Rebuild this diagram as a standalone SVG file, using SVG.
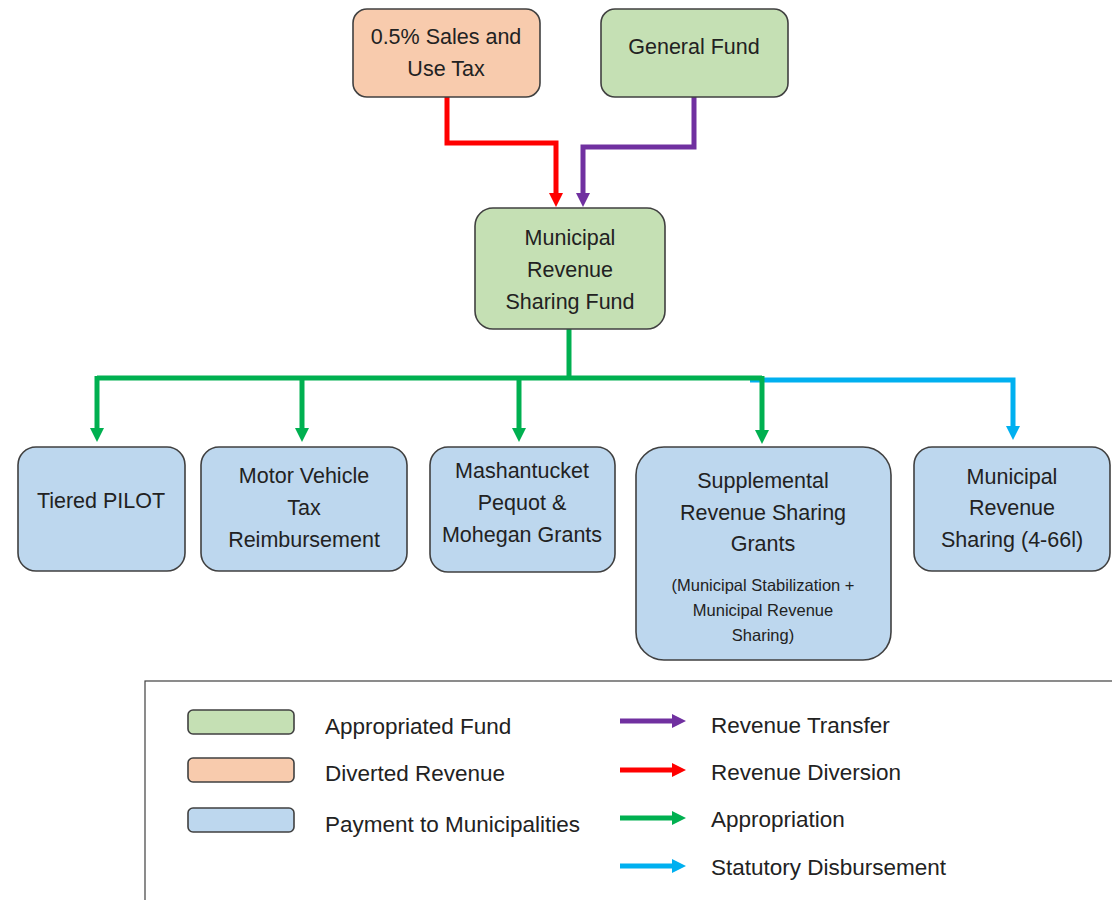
<svg xmlns="http://www.w3.org/2000/svg" width="1112" height="900" viewBox="0 0 1112 900">
<style>
text{font-family:"Liberation Sans",Arial,sans-serif;fill:#222;text-anchor:middle;font-size:21.5px}
.lg{text-anchor:start;font-size:22.5px}
.sm{font-size:16.5px}
.node{stroke:#404040;stroke-width:1.6}
.g{fill:#C5E0B4}.o{fill:#F8CBAD}.b{fill:#BDD7EE}
.c{fill:none;stroke-width:5}
.red{stroke:#FF0000}.pur{stroke:#7030A0}.grn{stroke:#00B050}.blu{stroke:#00B0F0}
</style>
<defs>
<marker id="ar" markerUnits="userSpaceOnUse" viewBox="0 0 14 14" markerWidth="14" markerHeight="14" refX="0" refY="7" orient="auto"><path d="M0,0 L14,7 L0,14z" fill="#FF0000"/></marker>
<marker id="ap" markerUnits="userSpaceOnUse" viewBox="0 0 14 14" markerWidth="14" markerHeight="14" refX="0" refY="7" orient="auto"><path d="M0,0 L14,7 L0,14z" fill="#7030A0"/></marker>
<marker id="ag" markerUnits="userSpaceOnUse" viewBox="0 0 14 14" markerWidth="14" markerHeight="14" refX="0" refY="7" orient="auto"><path d="M0,0 L14,7 L0,14z" fill="#00B050"/></marker>
<marker id="ab" markerUnits="userSpaceOnUse" viewBox="0 0 14 14" markerWidth="14" markerHeight="14" refX="0" refY="7" orient="auto"><path d="M0,0 L14,7 L0,14z" fill="#00B0F0"/></marker>
</defs>
<rect width="1112" height="900" fill="#fff"/>

<g id="connectors">
<path class="c red" d="M447,97 V143 H556 V193" marker-end="url(#ar)"/>
<path class="c pur" d="M694,97 V147 H583 V193" marker-end="url(#ap)"/>
<path class="c blu" d="M750,380 H1013 V426" marker-end="url(#ab)"/>
<path class="c grn" d="M569,329 V378"/>
<path class="c grn" d="M97,378 H762"/>
<path class="c grn" d="M97,376 V428" marker-end="url(#ag)"/>
<path class="c grn" d="M302,378 V428" marker-end="url(#ag)"/>
<path class="c grn" d="M519,378 V428" marker-end="url(#ag)"/>
<path class="c grn" d="M762,376 V430" marker-end="url(#ag)"/>
</g>

<g id="sales-tax"><rect class="node o" x="353" y="9" width="187" height="88" rx="14"/>
<text x="446" y="44">0.5% Sales and</text><text x="446" y="76">Use Tax</text></g>
<g id="general-fund"><rect class="node g" x="601" y="9" width="187" height="88" rx="14"/>
<text x="694" y="54">General Fund</text></g>
<g id="mrsf"><rect class="node g" x="475" y="208" width="190" height="121" rx="18"/>
<text x="570" y="245">Municipal</text><text x="570" y="277">Revenue</text><text x="570" y="309">Sharing Fund</text></g>

<g id="tiered-pilot"><rect class="node b" x="18" y="447" width="167" height="124" rx="18"/>
<text x="101" y="508">Tiered PILOT</text></g>
<g id="motor-vehicle"><rect class="node b" x="201" y="447" width="206" height="124" rx="18"/>
<text x="304" y="483">Motor Vehicle</text><text x="304" y="515">Tax</text><text x="304" y="547">Reimbursement</text></g>
<g id="mashantucket"><rect class="node b" x="430" y="447" width="185" height="125" rx="18"/>
<text x="522" y="478">Mashantucket</text><text x="522" y="510">Pequot &amp;</text><text x="522" y="542">Mohegan Grants</text></g>
<g id="supplemental"><rect class="node b" x="636" y="447" width="255" height="213" rx="28"/>
<text x="763" y="488">Supplemental</text><text x="763" y="520">Revenue Sharing</text><text x="763" y="551">Grants</text>
<text class="sm" x="763" y="591">(Municipal Stabilization +</text><text class="sm" x="763" y="616">Municipal Revenue</text><text class="sm" x="763" y="641">Sharing)</text></g>
<g id="mrs-466l"><rect class="node b" x="914" y="447" width="196" height="124" rx="18"/>
<text x="1012" y="484">Municipal</text><text x="1012" y="515">Revenue</text><text x="1012" y="547">Sharing (4-66l)</text></g>

<g id="legend">
<rect x="145" y="681" width="975" height="230" fill="#fff" stroke="#404040" stroke-width="1.2"/>
<rect class="node g" x="188" y="710" width="106" height="24" rx="5"/>
<rect class="node o" x="188" y="758" width="106" height="24" rx="5"/>
<rect class="node b" x="188" y="808" width="106" height="24" rx="5"/>
<text class="lg" x="325" y="734">Appropriated Fund</text>
<text class="lg" x="325" y="781">Diverted Revenue</text>
<text class="lg" x="325" y="832">Payment to Municipalities</text>
<path class="c pur" d="M620,721 H672" marker-end="url(#ap)"/>
<path class="c red" d="M620,770 H672" marker-end="url(#ar)"/>
<path class="c grn" d="M620,818 H672" marker-end="url(#ag)"/>
<path class="c blu" d="M620,866 H672" marker-end="url(#ab)"/>
<text class="lg" x="711" y="733">Revenue Transfer</text>
<text class="lg" x="711" y="780">Revenue Diversion</text>
<text class="lg" x="711" y="827">Appropriation</text>
<text class="lg" x="711" y="875">Statutory Disbursement</text>
</g>
</svg>
